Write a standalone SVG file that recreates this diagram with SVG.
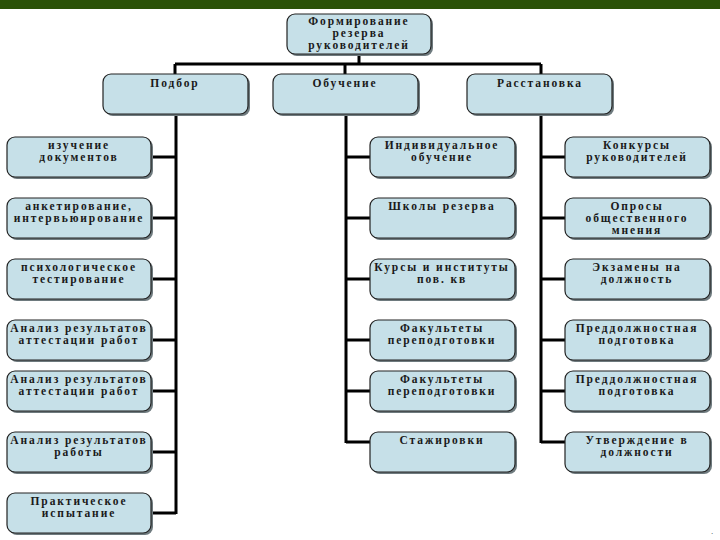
<svg xmlns="http://www.w3.org/2000/svg" width="720" height="540" viewBox="0 0 720 540">
<style>
.bx{fill:#c6e0e8;stroke:#222;stroke-width:1.2}
.sh{fill:#6e7a7e}
.t{font-family:"Liberation Serif","DejaVu Serif",serif;font-size:11.5px;font-weight:bold;fill:#1a1a1a;text-anchor:middle;letter-spacing:1.9px}
.c{stroke:#000;stroke-width:3;fill:none}
</style>
<rect x="0" y="0" width="720" height="540" fill="#fff"/>
<rect x="0" y="0" width="720" height="9" fill="#2b5208"/>
<g id="connectors">
<path class="c" d="M359 54V64M175 64H541M175 64V74M345 64V74M541 64V74"/>
<path class="c" d="M176 114V514M151 157H176M151 218H176M151 279H176M151 340H176M151 391H176M151 452H176M151 513H176"/>
<path class="c" d="M346 114V443M346 157H370M346 218H370M346 279H370M346 340H370M346 391H370M346 442H370"/>
<path class="c" d="M541 114V443M541 157H565M541 218H565M541 279H565M541 340H565M541 391H565M541 442H565"/>
</g>
<g id="root"><rect class="sh" x="289" y="16" width="144" height="40" rx="8"/><rect class="bx" x="287" y="14" width="144" height="40" rx="8"/><text class="t" x="359" y="25">Формирование</text><text class="t" x="359" y="37">резерва</text><text class="t" x="359" y="49">руководителей</text></g>
<g id="podbor"><rect class="sh" x="105" y="76" width="145" height="40" rx="8"/><rect class="bx" x="103" y="74" width="145" height="40" rx="8"/><text class="t" x="175" y="87">Подбор</text></g>
<g id="obuchenie"><rect class="sh" x="275" y="76" width="145" height="40" rx="8"/><rect class="bx" x="273" y="74" width="145" height="40" rx="8"/><text class="t" x="345" y="87">Обучение</text></g>
<g id="rasstanovka"><rect class="sh" x="469" y="76" width="145" height="40" rx="8"/><rect class="bx" x="467" y="74" width="145" height="40" rx="8"/><text class="t" x="540" y="87">Расстановка</text></g>

<g id="l1"><rect class="sh" x="9" y="139" width="144" height="40" rx="8"/><rect class="bx" x="7" y="137" width="144" height="40" rx="8"/><text class="t" x="79" y="149">изучение</text><text class="t" x="79" y="161">документов</text></g>
<g id="l2"><rect class="sh" x="9" y="200" width="144" height="40" rx="8"/><rect class="bx" x="7" y="198" width="144" height="40" rx="8"/><text class="t" x="79" y="210">анкетирование,</text><text class="t" x="79" y="222">интервьюирование</text></g>
<g id="l3"><rect class="sh" x="9" y="261" width="144" height="40" rx="8"/><rect class="bx" x="7" y="259" width="144" height="40" rx="8"/><text class="t" x="79" y="271">психологическое</text><text class="t" x="79" y="283">тестирование</text></g>
<g id="l4"><rect class="sh" x="9" y="322" width="144" height="40" rx="8"/><rect class="bx" x="7" y="320" width="144" height="40" rx="8"/><text class="t" x="79" y="332">Анализ результатов</text><text class="t" x="79" y="344">аттестации работ</text></g>
<g id="l5"><rect class="sh" x="9" y="373" width="144" height="40" rx="8"/><rect class="bx" x="7" y="371" width="144" height="40" rx="8"/><text class="t" x="79" y="383">Анализ результатов</text><text class="t" x="79" y="395">аттестации работ</text></g>
<g id="l6"><rect class="sh" x="9" y="434" width="144" height="40" rx="8"/><rect class="bx" x="7" y="432" width="144" height="40" rx="8"/><text class="t" x="79" y="444">Анализ результатов</text><text class="t" x="79" y="456">работы</text></g>
<g id="l7"><rect class="sh" x="9" y="495" width="144" height="40" rx="8"/><rect class="bx" x="7" y="493" width="144" height="40" rx="8"/><text class="t" x="79" y="505">Практическое</text><text class="t" x="79" y="517">испытание</text></g>

<g id="m1"><rect class="sh" x="372" y="139" width="145" height="40" rx="8"/><rect class="bx" x="370" y="137" width="145" height="40" rx="8"/><text class="t" x="442" y="149">Индивидуальное</text><text class="t" x="442" y="161">обучение</text></g>
<g id="m2"><rect class="sh" x="372" y="200" width="145" height="40" rx="8"/><rect class="bx" x="370" y="198" width="145" height="40" rx="8"/><text class="t" x="442" y="210">Школы резерва</text></g>
<g id="m3"><rect class="sh" x="372" y="261" width="145" height="40" rx="8"/><rect class="bx" x="370" y="259" width="145" height="40" rx="8"/><text class="t" x="442" y="271">Курсы и институты</text><text class="t" x="442" y="283">пов. кв</text></g>
<g id="m4"><rect class="sh" x="372" y="322" width="145" height="40" rx="8"/><rect class="bx" x="370" y="320" width="145" height="40" rx="8"/><text class="t" x="442" y="332">Факультеты</text><text class="t" x="442" y="344">переподготовки</text></g>
<g id="m5"><rect class="sh" x="372" y="373" width="145" height="40" rx="8"/><rect class="bx" x="370" y="371" width="145" height="40" rx="8"/><text class="t" x="442" y="383">Факультеты</text><text class="t" x="442" y="395">переподготовки</text></g>
<g id="m6"><rect class="sh" x="372" y="434" width="145" height="40" rx="8"/><rect class="bx" x="370" y="432" width="145" height="40" rx="8"/><text class="t" x="442" y="444">Стажировки</text></g>

<g id="r1"><rect class="sh" x="567" y="139" width="145" height="40" rx="8"/><rect class="bx" x="565" y="137" width="145" height="40" rx="8"/><text class="t" x="637" y="149">Конкурсы</text><text class="t" x="637" y="161">руководителей</text></g>
<g id="r2"><rect class="sh" x="567" y="200" width="145" height="40" rx="8"/><rect class="bx" x="565" y="198" width="145" height="40" rx="8"/><text class="t" x="637" y="210">Опросы</text><text class="t" x="637" y="222">общественного</text><text class="t" x="637" y="234">мнения</text></g>
<g id="r3"><rect class="sh" x="567" y="261" width="145" height="40" rx="8"/><rect class="bx" x="565" y="259" width="145" height="40" rx="8"/><text class="t" x="637" y="271">Экзамены на</text><text class="t" x="637" y="283">должность</text></g>
<g id="r4"><rect class="sh" x="567" y="322" width="145" height="40" rx="8"/><rect class="bx" x="565" y="320" width="145" height="40" rx="8"/><text class="t" x="637" y="332">Преддолжностная</text><text class="t" x="637" y="344">подготовка</text></g>
<g id="r5"><rect class="sh" x="567" y="373" width="145" height="40" rx="8"/><rect class="bx" x="565" y="371" width="145" height="40" rx="8"/><text class="t" x="637" y="383">Преддолжностная</text><text class="t" x="637" y="395">подготовка</text></g>
<g id="r6"><rect class="sh" x="567" y="434" width="145" height="40" rx="8"/><rect class="bx" x="565" y="432" width="145" height="40" rx="8"/><text class="t" x="637" y="444">Утверждение в</text><text class="t" x="637" y="456">должности</text></g>
<text x="711" y="534" style="font-family:'Liberation Sans',sans-serif;font-size:8px;fill:#333">.</text>
</svg>
